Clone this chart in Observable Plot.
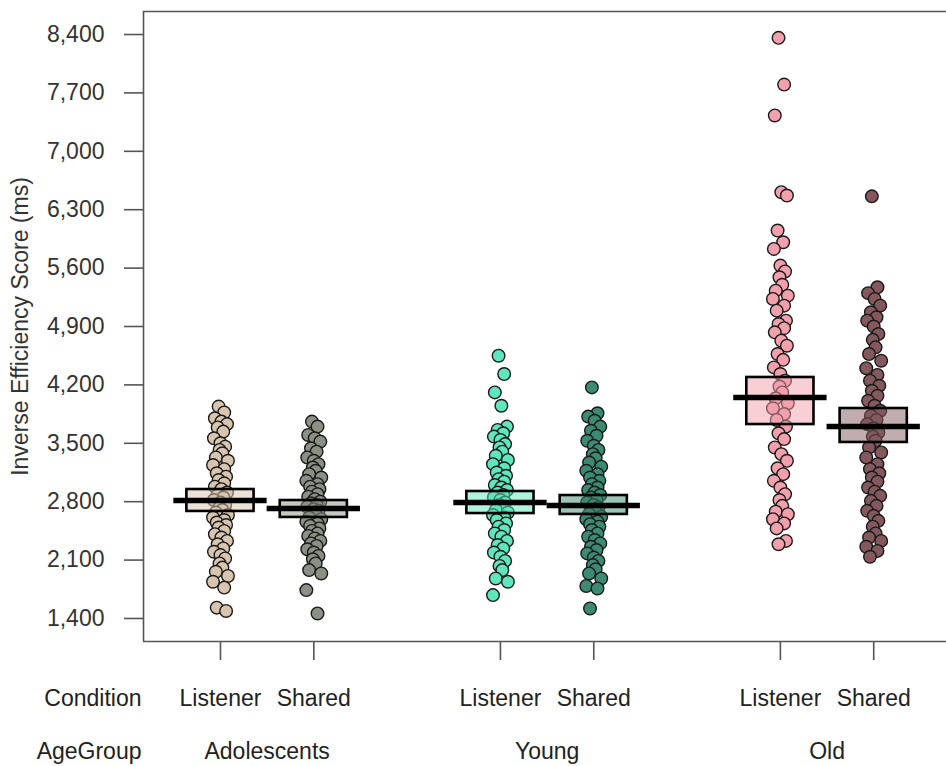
<!DOCTYPE html>
<html>
<head>
<meta charset="utf-8">
<script src="https://cdn.jsdelivr.net/npm/d3@7"></script>
<script src="https://cdn.jsdelivr.net/npm/@observablehq/plot@0.6"></script>
<style>
  html, body { margin: 0; padding: 0; background: #fff; }
  #chart svg { display: block; }
</style>
</head>
<body>
<div id="chart"></div>
<script>
// ---- Data ----
const ageGroups = ["Adolescents", "Young", "Old"];
const conditions = ["Listener", "Shared"];
const yTicks = [1400, 2100, 2800, 3500, 4200, 4900, 5600, 6300, 7000, 7700, 8400];

const adolListener = [3940, 3870, 3800, 3760, 3730, 3690, 3640, 3560, 3500, 3460, 3420, 3380, 3330, 3290, 3240, 3190, 3140, 3100, 3060, 3020, 2980, 2950, 2910, 2880, 2850, 2820, 2790, 2760, 2730, 2700, 2670, 2640, 2610, 2580, 2550, 2520, 2490, 2450, 2410, 2370, 2330, 2290, 2240, 2200, 2160, 2120, 2060, 2010, 1960, 1910, 1840, 1770, 1530, 1490];
const adolShared = [3760, 3700, 3600, 3560, 3520, 3440, 3400, 3330, 3290, 3250, 3210, 3170, 3130, 3090, 3050, 3010, 2980, 2950, 2920, 2890, 2860, 2830, 2800, 2780, 2760, 2740, 2710, 2690, 2660, 2640, 2610, 2590, 2560, 2540, 2510, 2480, 2450, 2420, 2390, 2360, 2330, 2300, 2270, 2230, 2190, 2150, 2110, 2060, 1980, 1940, 1740, 1460];
const youngListener = [4550, 4330, 4110, 3950, 3700, 3660, 3620, 3580, 3540, 3490, 3450, 3400, 3350, 3300, 3250, 3200, 3150, 3110, 3070, 3040, 3000, 2970, 2940, 2910, 2880, 2850, 2820, 2790, 2760, 2730, 2700, 2670, 2640, 2610, 2580, 2540, 2500, 2460, 2420, 2380, 2330, 2280, 2240, 2190, 2140, 2090, 2030, 1980, 1880, 1840, 1680];
const youngShared = [4170, 3860, 3820, 3770, 3700, 3650, 3590, 3530, 3470, 3420, 3370, 3320, 3270, 3220, 3170, 3130, 3090, 3050, 3010, 2970, 2940, 2910, 2880, 2850, 2820, 2790, 2760, 2730, 2700, 2680, 2650, 2620, 2590, 2560, 2530, 2500, 2460, 2420, 2380, 2340, 2300, 2260, 2220, 2180, 2130, 2090, 2040, 1990, 1940, 1880, 1790, 1760, 1520];
const oldListener = [8360, 7800, 7430, 6510, 6470, 6050, 5910, 5830, 5630, 5560, 5490, 5400, 5330, 5270, 5230, 5150, 5090, 4970, 4930, 4880, 4830, 4730, 4670, 4570, 4500, 4410, 4330, 4250, 4180, 4110, 4040, 3980, 3920, 3850, 3780, 3700, 3620, 3550, 3450, 3370, 3290, 3200, 3130, 3050, 2970, 2890, 2820, 2750, 2680, 2650, 2590, 2540, 2480, 2330, 2290];
const oldShared = [6460, 5370, 5300, 5230, 5150, 5070, 5010, 4970, 4900, 4810, 4740, 4650, 4570, 4490, 4400, 4320, 4250, 4190, 4130, 4070, 4010, 3950, 3890, 3830, 3780, 3730, 3680, 3630, 3580, 3530, 3450, 3390, 3330, 3250, 3190, 3140, 3090, 3040, 2970, 2920, 2870, 2810, 2750, 2690, 2630, 2570, 2500, 2420, 2370, 2330, 2260, 2210, 2140];

const means  = [2814, 2718, 2790, 2754, 4049, 3701];
const ciLow  = [2683, 2611, 2658, 2647, 3725, 3510];
const ciHigh = [2946, 2814, 2922, 2874, 4289, 3917];

const colors = ["#d8c5b0", "#8c9084", "#5fe6bd", "#3d8a72", "#f2a0ac", "#84595e"];

// fixed (non-random) horizontal jitter pattern, in x units
const jitter = [-0.02, 0.04, -0.06, 0.01, 0.07, -0.03, 0.03, -0.07, 0.0, 0.05, -0.01, 0.02, -0.05, 0.08, -0.08, 0.04, -0.04, 0.06];

// ---- Build tables ----
const series = [adolListener, adolShared, youngListener, youngShared, oldListener, oldShared];
const cells = series.map((vals, i) => ({
  i,
  group: ageGroups[Math.floor(i / 2)],
  cond: conditions[i % 2],
  pos: Math.floor(i / 2) * 3 + (i % 2) + 1,
  color: colors[i],
  mean: means[i], lo: ciLow[i], hi: ciHigh[i]
}));
const points = cells.flatMap(c => series[c.i].map((v, j) => ({
  x: c.pos + jitter[j % jitter.length], y: v, color: c.color
})));
const groupLabels = ageGroups.map((g, k) => ({ g, pos: k * 3 + 1.5 }));

const xDomain = [0.175, 8.78];
const yDomain = [1124, 8676];
const frameColor = "#555";

const chart = Plot.plot({
  width: 946,
  height: 766,
  marginTop: 11,
  marginLeft: 143,
  marginRight: 0,
  marginBottom: 125,
  style: { fontFamily: "'Liberation Sans', Arial, sans-serif", fontSize: "23px", color: "#333", background: "#fff" },
  x: { domain: xDomain, axis: null },
  y: { domain: yDomain, axis: null },
  marks: [
    // frame (left, top, bottom)
    Plot.ruleX([xDomain[0]], { stroke: frameColor, strokeWidth: 1.6 }),
    Plot.ruleY(yDomain, { stroke: frameColor, strokeWidth: 1.6 }),
    // y axis
    Plot.axisY(yTicks, {
      tickSize: 19, tickPadding: 20, tickFormat: d3.format(","),
      stroke: frameColor, strokeWidth: 1.6, fill: "#333", label: null, fontSize: 23
    }),
    // x ticks
    Plot.axisX(cells.map(c => c.pos), {
      tickSize: 19, tickFormat: () => "", stroke: frameColor, strokeWidth: 1.6, label: null
    }),
    // points
    Plot.dot(points, {
      x: "x", y: "y", r: 6.3, fill: "color", stroke: "#1a1a1a", strokeWidth: 1.4
    }),
    // CI boxes
    Plot.rect(cells, {
      x1: d => d.pos - 0.36, x2: d => d.pos + 0.36, y1: "lo", y2: "hi",
      fill: "color", fillOpacity: 0.5, stroke: "#000", strokeWidth: 2.6
    }),
    // mean lines
    Plot.ruleY(cells, {
      y: "mean", x1: d => d.pos - 0.5, x2: d => d.pos + 0.5, stroke: "#000", strokeWidth: 5.5
    }),
    // y title
    Plot.text(["Inverse Efficiency Score (ms)"], {
      text: d => d, frameAnchor: "left", dx: -123, rotate: -90, textAnchor: "middle",
      lineAnchor: "middle", fill: "#333", fontSize: 23
    }),
    // bottom labels
    Plot.text(["Condition"], {
      text: d => d, frameAnchor: "bottom-left", dx: -2, dy: 57, textAnchor: "end",
      lineAnchor: "middle", fill: "#222", fontSize: 23
    }),
    Plot.text(["AgeGroup"], {
      text: d => d, frameAnchor: "bottom-left", dx: -2, dy: 110, textAnchor: "end",
      lineAnchor: "middle", fill: "#222", fontSize: 23
    }),
    Plot.text(cells, {
      x: "pos", text: "cond", frameAnchor: "bottom", dy: 57, lineAnchor: "middle",
      fill: "#222", fontSize: 23
    }),
    Plot.text(groupLabels, {
      x: "pos", text: "g", frameAnchor: "bottom", dy: 110, lineAnchor: "middle",
      fill: "#222", fontSize: 23
    })
  ]
});

document.getElementById("chart").appendChild(chart);
</script>
</body>
</html>
